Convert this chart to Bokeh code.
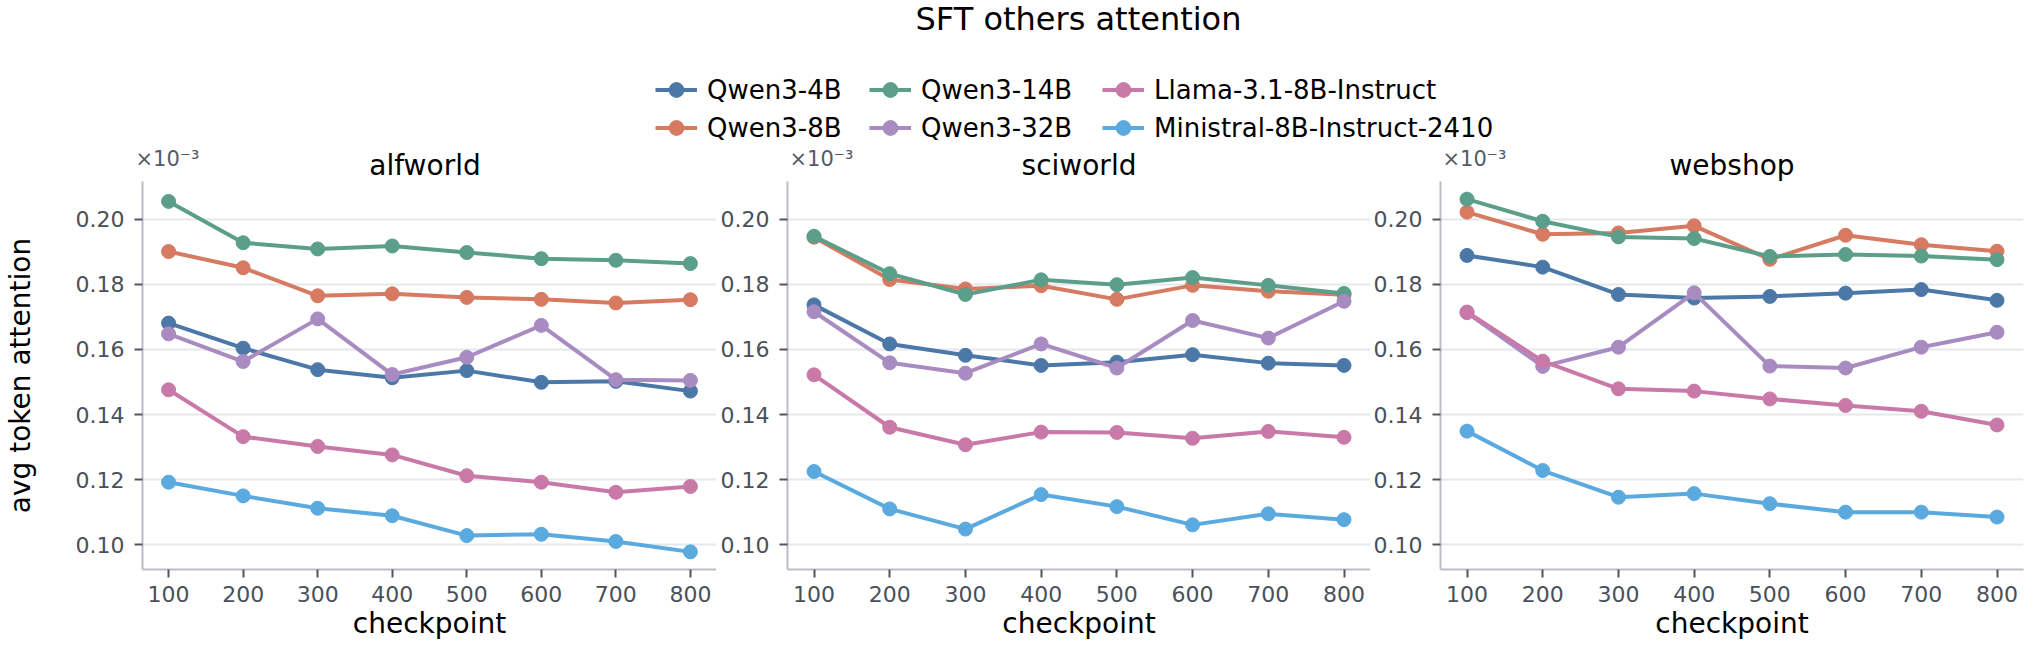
import math
from bokeh.plotting import figure
from bokeh.models import (ColumnDataSource, Legend, LegendItem, Label, FixedTicker,
                          PrintfTickFormatter, Range1d)
from bokeh.layouts import column, row
from bokeh.embed import file_html
from bokeh.resources import INLINE

# ---------------- data (values shown in units of 1e-3) ----------------
checkpoints = [100, 200, 300, 400, 500, 600, 700, 800]
y_ticks = [0.10, 0.12, 0.14, 0.16, 0.18, 0.20]
tasks = ["alfworld", "sciworld", "webshop"]
models = ["Qwen3-4B", "Qwen3-8B", "Qwen3-14B", "Qwen3-32B",
          "Llama-3.1-8B-Instruct", "Ministral-8B-Instruct-2410"]
colors = ["#4c78a8", "#d67a62", "#5b9e8a", "#a88bc0", "#c979a8", "#5aaae0"]

alfworld_qwen3_4b = [0.1681, 0.1604, 0.1538, 0.1513, 0.1535, 0.1499, 0.1502, 0.1472]
alfworld_qwen3_8b = [0.1901, 0.1851, 0.1765, 0.1771, 0.1760, 0.1754, 0.1743, 0.1753]
alfworld_qwen3_14b = [0.2055, 0.1928, 0.1909, 0.1918, 0.1898, 0.1879, 0.1874, 0.1864]
alfworld_qwen3_32b = [0.1648, 0.1563, 0.1694, 0.1523, 0.1576, 0.1674, 0.1507, 0.1505]
alfworld_llama = [0.1476, 0.1332, 0.1302, 0.1276, 0.1212, 0.1192, 0.1161, 0.1179]
alfworld_ministral = [0.1192, 0.1150, 0.1112, 0.1089, 0.1028, 0.1032, 0.1010, 0.0978]

sciworld_qwen3_4b = [0.1737, 0.1617, 0.1582, 0.1551, 0.1561, 0.1584, 0.1558, 0.1551]
sciworld_qwen3_8b = [0.1945, 0.1815, 0.1786, 0.1796, 0.1754, 0.1797, 0.1779, 0.1768]
sciworld_qwen3_14b = [0.1948, 0.1833, 0.1769, 0.1814, 0.1799, 0.1821, 0.1797, 0.1772]
sciworld_qwen3_32b = [0.1716, 0.1559, 0.1527, 0.1617, 0.1543, 0.1689, 0.1635, 0.1748]
sciworld_llama = [0.1522, 0.1361, 0.1307, 0.1346, 0.1345, 0.1327, 0.1348, 0.1330]
sciworld_ministral = [0.1225, 0.1110, 0.1048, 0.1154, 0.1117, 0.1061, 0.1095, 0.1077]

webshop_qwen3_4b = [0.1889, 0.1853, 0.1769, 0.1758, 0.1763, 0.1773, 0.1784, 0.1751]
webshop_qwen3_8b = [0.2022, 0.1954, 0.1958, 0.1980, 0.1877, 0.1951, 0.1922, 0.1902]
webshop_qwen3_14b = [0.2062, 0.1994, 0.1946, 0.1941, 0.1886, 0.1892, 0.1887, 0.1876]
webshop_qwen3_32b = [0.1713, 0.1548, 0.1607, 0.1774, 0.1549, 0.1543, 0.1607, 0.1653]
webshop_llama = [0.1715, 0.1564, 0.1479, 0.1472, 0.1448, 0.1428, 0.1410, 0.1368]
webshop_ministral = [0.1349, 0.1228, 0.1146, 0.1157, 0.1126, 0.1100, 0.1100, 0.1085]

series = {
    "alfworld": [alfworld_qwen3_4b, alfworld_qwen3_8b, alfworld_qwen3_14b,
                 alfworld_qwen3_32b, alfworld_llama, alfworld_ministral],
    "sciworld": [sciworld_qwen3_4b, sciworld_qwen3_8b, sciworld_qwen3_14b,
                 sciworld_qwen3_32b, sciworld_llama, sciworld_ministral],
    "webshop": [webshop_qwen3_4b, webshop_qwen3_8b, webshop_qwen3_14b,
                webshop_qwen3_32b, webshop_llama, webshop_ministral],
}

# ---------------- layout / styling ----------------
FONT = "DejaVu Sans"
TOTAL_W = 2024
TOTAL_H = 647
HDR = 181                      # header height (title, legend, panel titles)
PH = TOTAL_H - HDR             # panel figure height
FRAME_W = 583
FRAME_LEFTS = [133, 787, 1440]  # page x of each panel's plot area
AXIS_COL = "#b9bec7"
TICK_COL = "#50565f"
LABEL_COL = "#4a505a"
GRID_COL = "#e4e7eb"

all_vals = [v for t in tasks for s in series[t] for v in s]
ymin, ymax = min(all_vals), max(all_vals)
ypad = 0.05 * (ymax - ymin)
xpad = 0.05 * (max(checkpoints) - min(checkpoints))


def make_panel(task, width, left, right, first):
    p = figure(width=width, height=PH, toolbar_location=None, output_backend="svg",
               x_range=Range1d(min(checkpoints) - xpad, max(checkpoints) + xpad),
               y_range=Range1d(ymin - ypad, ymax + ypad),
               min_border_left=left, min_border_right=right,
               min_border_top=0, min_border_bottom=78)
    p.outline_line_color = None
    p.background_fill_color = "white"
    p.border_fill_color = "white"
    p.xgrid.visible = False
    p.ygrid.grid_line_color = GRID_COL
    p.ygrid.grid_line_width = 2
    p.xaxis.ticker = FixedTicker(ticks=checkpoints)
    p.yaxis.ticker = FixedTicker(ticks=y_ticks)
    p.yaxis.formatter = PrintfTickFormatter(format="%.2f")
    for ax in (p.xaxis, p.yaxis):
        ax.axis_line_color = AXIS_COL
        ax.axis_line_width = 2
        ax.major_tick_line_color = TICK_COL
        ax.major_tick_line_width = 2
        ax.major_tick_out = 8
        ax.major_tick_in = 0
        ax.minor_tick_line_color = None
        ax.major_label_text_font = FONT
        ax.major_label_text_font_size = "22px"
        ax.major_label_text_color = LABEL_COL
        ax.axis_label_text_font = FONT
        ax.axis_label_text_font_size = "28px"
        ax.axis_label_text_font_style = "normal"
        ax.axis_label_text_color = "black"
    p.xaxis.major_label_standoff = 8
    p.yaxis.major_label_standoff = 10
    p.xaxis.axis_label = "checkpoint"
    p.xaxis.axis_label_standoff = 2
    if first:
        p.yaxis.axis_label = "avg token attention"
        p.yaxis.axis_label_standoff = 36

    for m, c, vals in zip(models, colors, series[task]):
        src = ColumnDataSource(data=dict(x=checkpoints, y=vals))
        p.line("x", "y", source=src, line_color=c, line_width=4)
        p.scatter("x", "y", source=src, size=14, fill_color=c, line_color=c)
    return p


p1 = make_panel("alfworld", FRAME_LEFTS[1] - 71, FRAME_LEFTS[0], 0, True)
p2 = make_panel("sciworld", FRAME_LEFTS[2] - 70 - (FRAME_LEFTS[1] - 71), 71, 0, False)
p3 = make_panel("webshop", TOTAL_W - (FRAME_LEFTS[2] - 70), 70,
                TOTAL_W - FRAME_LEFTS[2] - FRAME_W, False)

# ---------------- header: suptitle, legend, panel titles ----------------
# header frame uses page-pixel ranges (y measured from the top)
header = figure(width=TOTAL_W, height=HDR, toolbar_location=None, output_backend="svg",
                x_axis_type=None, y_axis_type=None,
                x_range=Range1d(0, TOTAL_W), y_range=Range1d(HDR, 0),
                min_border_left=0, min_border_right=0, min_border_top=0, min_border_bottom=0)
header.outline_line_color = None
header.background_fill_color = "white"
header.border_fill_color = "white"

center_all = (FRAME_LEFTS[0] + FRAME_LEFTS[2] + FRAME_W) / 2
header.add_layout(Label(x=center_all, y=18, text="SFT others attention",
                        text_align="center", text_baseline="alphabetic",
                        text_font=FONT, text_font_size="32px", text_color="black"))
for task, fl in zip(tasks, FRAME_LEFTS):
    header.add_layout(Label(x=fl + FRAME_W / 2, y=HDR - 16, text=task,
                            text_align="center", text_baseline="alphabetic",
                            text_font=FONT, text_font_size="28px", text_color="black"))
    header.add_layout(Label(x=fl + 2, y=HDR - 23, text="×10⁻³",
                            text_align="left", text_baseline="alphabetic",
                            text_font=FONT, text_font_size="21px", text_color="#555b66"))

items = {}
for m, c in zip(models, colors):
    # legend proxies: a single NaN point, never visible in the header
    src = ColumnDataSource(data=dict(x=[math.nan], y=[math.nan]))
    lr = header.line("x", "y", source=src, line_color=c, line_width=4)
    sr = header.scatter("x", "y", source=src, size=14, fill_color=c, line_color=c)
    items[m] = LegendItem(label=m, renderers=[lr, sr])

legend_cols = [["Qwen3-4B", "Qwen3-8B"],
               ["Qwen3-14B", "Qwen3-32B"],
               ["Llama-3.1-8B-Instruct", "Ministral-8B-Instruct-2410"]]
legend_x = [655, 869, 1102]
for names, lx in zip(legend_cols, legend_x):
    lg = Legend(items=[items[k] for k in names], orientation="vertical",
                location=(lx, 35), border_line_color=None, background_fill_alpha=0,
                label_text_font=FONT, label_text_font_size="26px", label_text_color="black",
                glyph_width=42, glyph_height=37, label_height=30, label_standoff=10,
                spacing=1, padding=0, margin=0)
    header.add_layout(lg, "center")

layout = column(header, row(p1, p2, p3))
open("out.html", "w").write(file_html(layout, INLINE))
